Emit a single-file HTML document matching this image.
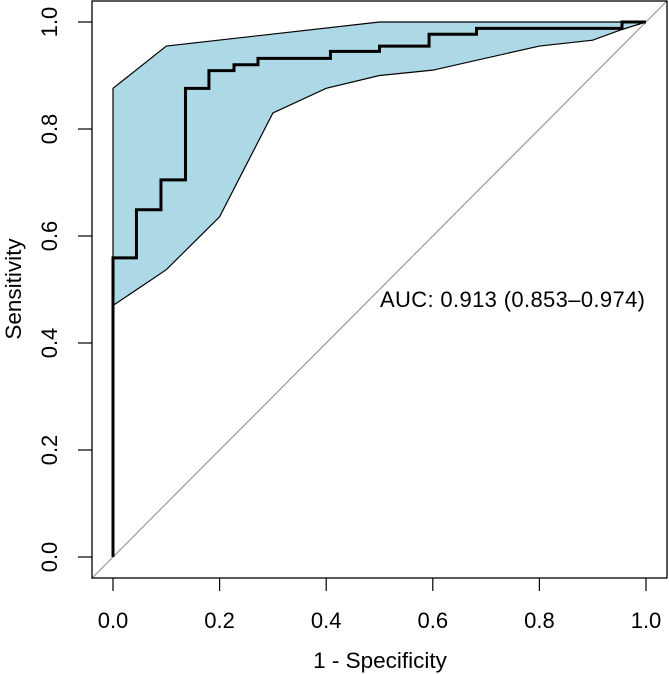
<!DOCTYPE html>
<html><head><meta charset="utf-8"><style>
html,body{margin:0;padding:0;background:#fff;}
svg{display:block;font-family:"Liberation Sans",Arial,sans-serif;}
</style></head><body>
<svg id="chart" width="669" height="674" viewBox="0 0 669 674">
<g id="band"></g>
<line id="diag" stroke="#999" stroke-width="1.2"></line>
<polyline id="curve" fill="none" stroke="#000" stroke-width="3" stroke-linejoin="miter"></polyline>
<rect x="92" y="1" width="575" height="577" fill="none" stroke="#000" stroke-width="1.3"></rect>
<g id="xaxis"></g>
<g id="yaxis"></g>
<text x="380" y="668" font-size="22.5" text-anchor="middle">1 - Specificity</text>
<text transform="translate(21,289) rotate(-90)" font-size="22.5" text-anchor="middle">Sensitivity</text>
<text x="380" y="307" font-size="22" textLength="265">AUC: 0.913 (0.853–0.974)</text>
</svg>
<script>
const curveFpr = [0,0,0.044,0.044,0.09,0.09,0.136,0.136,0.18,0.18,0.227,0.227,0.272,0.272,0.408,0.408,0.5,0.5,0.593,0.593,0.682,0.682,0.955,0.955,1];
const curveSens = [0,0.559,0.559,0.649,0.649,0.705,0.705,0.876,0.876,0.909,0.909,0.92,0.92,0.932,0.932,0.945,0.945,0.955,0.955,0.977,0.977,0.988,0.988,1,1];
const upperFpr = [0,0.1,0.5,1];
const upperSens = [0.876,0.955,1,1];
const lowerFpr = [0,0.1,0.2,0.3,0.4,0.5,0.6,0.8,0.9,0.955,1];
const lowerSens = [0.47,0.537,0.636,0.83,0.876,0.9,0.91,0.955,0.966,0.986,1];
const xTicks = ["0.0","0.2","0.4","0.6","0.8","1.0"];
const yTicks = ["0.0","0.2","0.4","0.6","0.8","1.0"];
const X0=113, X1=646, Y0=557, Y1=22;
const sx = v => X0 + v*(X1-X0);
const sy = v => Y0 - v*(Y0-Y1);
const NS="http://www.w3.org/2000/svg";
const pts=[];
upperFpr.forEach((f,i)=>pts.push(sx(f)+","+sy(upperSens[i])));
for(let i=lowerFpr.length-1;i>=0;i--) pts.push(sx(lowerFpr[i])+","+sy(lowerSens[i]));
const poly=document.createElementNS(NS,"polygon");


poly.setAttribute("points",pts.join(" "));
poly.setAttribute("fill","#add8e6");
poly.setAttribute("stroke","#000");
poly.setAttribute("stroke-width","1.2");
document.getElementById("band").appendChild(poly);
const d=document.getElementById("diag");
d.setAttribute("x1",sx(-0.04));d.setAttribute("y1",sy(-0.04));
d.setAttribute("x2",sx(1.04));d.setAttribute("y2",sy(1.04));
document.getElementById("curve").setAttribute("points",curveFpr.map((f,i)=>sx(f)+","+sy(curveSens[i])).join(" "));
const xa=document.getElementById("xaxis");
xTicks.forEach(t=>{
  const v=parseFloat(t);
  const l=document.createElementNS(NS,"line");
  
  
  l.setAttribute("x1",sx(v));l.setAttribute("x2",sx(v));l.setAttribute("y1",578);l.setAttribute("y2",591);
  l.setAttribute("stroke","#000");l.setAttribute("stroke-width","1.2");
  xa.appendChild(l);
  const tx=document.createElementNS(NS,"text");
  
  
  tx.setAttribute("x",sx(v));tx.setAttribute("y",628);tx.setAttribute("font-size","22");tx.setAttribute("text-anchor","middle");
  tx.textContent=t;xa.appendChild(tx);
});
const ya=document.getElementById("yaxis");
yTicks.forEach(t=>{
  const v=parseFloat(t);
  const l=document.createElementNS(NS,"line");
  
  
  l.setAttribute("x1",78);l.setAttribute("x2",92);l.setAttribute("y1",sy(v));l.setAttribute("y2",sy(v));
  l.setAttribute("stroke","#000");l.setAttribute("stroke-width","1.2");
  ya.appendChild(l);
  const tx=document.createElementNS(NS,"text");
  
  
  tx.setAttribute("transform","translate(57,"+sy(v)+") rotate(-90)");
  tx.setAttribute("font-size","22");tx.setAttribute("text-anchor","middle");
  tx.textContent=t;ya.appendChild(tx);
});
</script>
</body></html>
